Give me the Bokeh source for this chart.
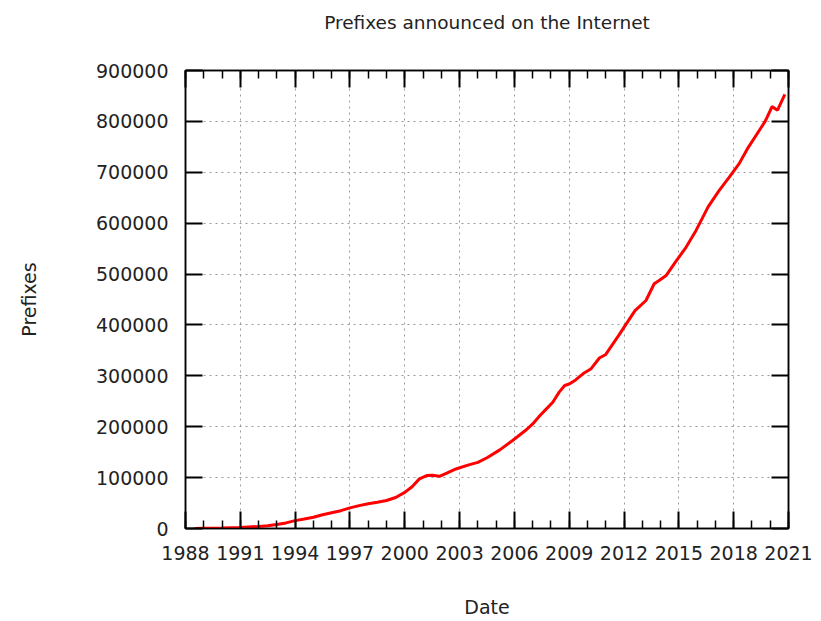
from bokeh.plotting import figure
from bokeh.models import FixedTicker, LinearAxis, BasicTickFormatter, Range1d, CustomJSTickFormatter
from bokeh.embed import file_html
from bokeh.resources import INLINE

# Decimal-year dates and prefix counts
dates = [1988.5, 1989.0, 1990.0, 1991.0, 1992.0, 1992.5, 1993.0, 1993.5, 1994.0, 1994.5,
         1995.0, 1995.5, 1996.0, 1996.5, 1997.0, 1997.5, 1998.0, 1998.5, 1999.0, 1999.5,
         2000.0, 2000.4, 2000.8, 2001.2, 2001.5, 2001.9, 2002.3, 2002.8, 2003.5, 2004.0,
         2004.5, 2005.2, 2005.9, 2006.6, 2007.0, 2007.4, 2007.75, 2008.1, 2008.45, 2008.75,
         2009.0, 2009.35, 2009.75, 2010.2, 2010.65, 2011.0, 2011.7, 2012.6, 2013.2, 2013.65,
         2013.9, 2014.3, 2014.8, 2015.4, 2015.9, 2016.6, 2017.2, 2017.75, 2018.3, 2018.8,
         2019.4, 2019.75, 2020.1, 2020.4, 2020.8]
prefixes = [0, 500, 1000, 2000, 4000, 5500, 8000, 11000, 15500, 18500,
            22000, 27000, 31000, 35000, 40500, 45000, 48500, 51500, 55000, 61000,
            71000, 82000, 97500, 104000, 104500, 102500, 109000, 117000, 125000, 130000,
            139000, 154500, 173000, 192500, 205500, 222000, 235000, 248000, 268000, 281000,
            284000, 292000, 304000, 314000, 335000, 342000, 379000, 428000, 448000, 481000,
            487000, 497000, 523000, 553000, 583000, 632000, 664000, 690000, 717000, 749000,
            782000, 802000, 829000, 822000, 853000]

x_ticks = [1988, 1991, 1994, 1997, 2000, 2003, 2006, 2009, 2012, 2015, 2018, 2021]
x_minor = list(range(1988, 2022))
y_ticks = [0, 100000, 200000, 300000, 400000, 500000, 600000, 700000, 800000, 900000]
title_text = "Prefixes announced on the Internet"

FONT = "DejaVu Sans"
FS = "19px"

p = figure(width=821, height=621, output_backend="svg", toolbar_location=None,
           x_range=Range1d(1988, 2021), y_range=Range1d(0, 900000),
           min_border_left=185, min_border_right=33, min_border_top=70, min_border_bottom=93)

p.outline_line_color = "black"
p.outline_line_width = 1.5
p.background_fill_color = "white"
p.border_fill_color = "white"

xt = FixedTicker(ticks=x_ticks, minor_ticks=x_minor)
yt = FixedTicker(ticks=y_ticks, minor_ticks=[])

def style(ax, labels):
    ax.axis_line_color = "black"
    ax.axis_line_width = 1.5
    ax.major_tick_in = 17
    ax.major_tick_out = 0
    ax.minor_tick_in = 8
    ax.minor_tick_out = 0
    ax.major_tick_line_width = 2
    ax.minor_tick_line_width = 1.5
    ax.major_tick_line_color = "black"
    ax.minor_tick_line_color = "black"
    ax.axis_label_text_font = FONT
    ax.axis_label_text_font_size = FS
    ax.axis_label_text_font_style = "normal"
    ax.axis_label_text_color = "#222222"
    if labels:
        ax.major_label_text_font = FONT
        ax.major_label_text_font_size = FS
        ax.major_label_text_color = "#222222"
        ax.major_label_standoff = 17
    else:
        ax.formatter = CustomJSTickFormatter(code="return ''")
        ax.major_label_standoff = 0

xa = p.xaxis[0]
xa.ticker = xt
xa.axis_label = "Date"
style(xa, True)
xa.axis_label_standoff = 33

ya = p.yaxis[0]
ya.ticker = yt
ya.formatter = BasicTickFormatter(use_scientific=False)
ya.axis_label = "Prefixes"
style(ya, True)
ya.axis_label_standoff = 53

# top mirror axis; its label carries the chart title
top = LinearAxis(ticker=xt, axis_label=title_text)
style(top, False)
top.axis_label_text_font_size = "18.5px"
top.axis_label_standoff = 38
p.add_layout(top, "above")

right = LinearAxis(ticker=yt)
style(right, False)
p.add_layout(right, "right")

for g, t in ((p.xgrid[0], xt), (p.ygrid[0], yt)):
    g.ticker = t
    g.grid_line_color = "#9a9a9a"
    g.grid_line_dash = "2 4"
    g.grid_line_width = 1

p.line(dates, prefixes, line_color="#ff0000", line_width=3)

open("out.html", "w").write(file_html(p, INLINE))
